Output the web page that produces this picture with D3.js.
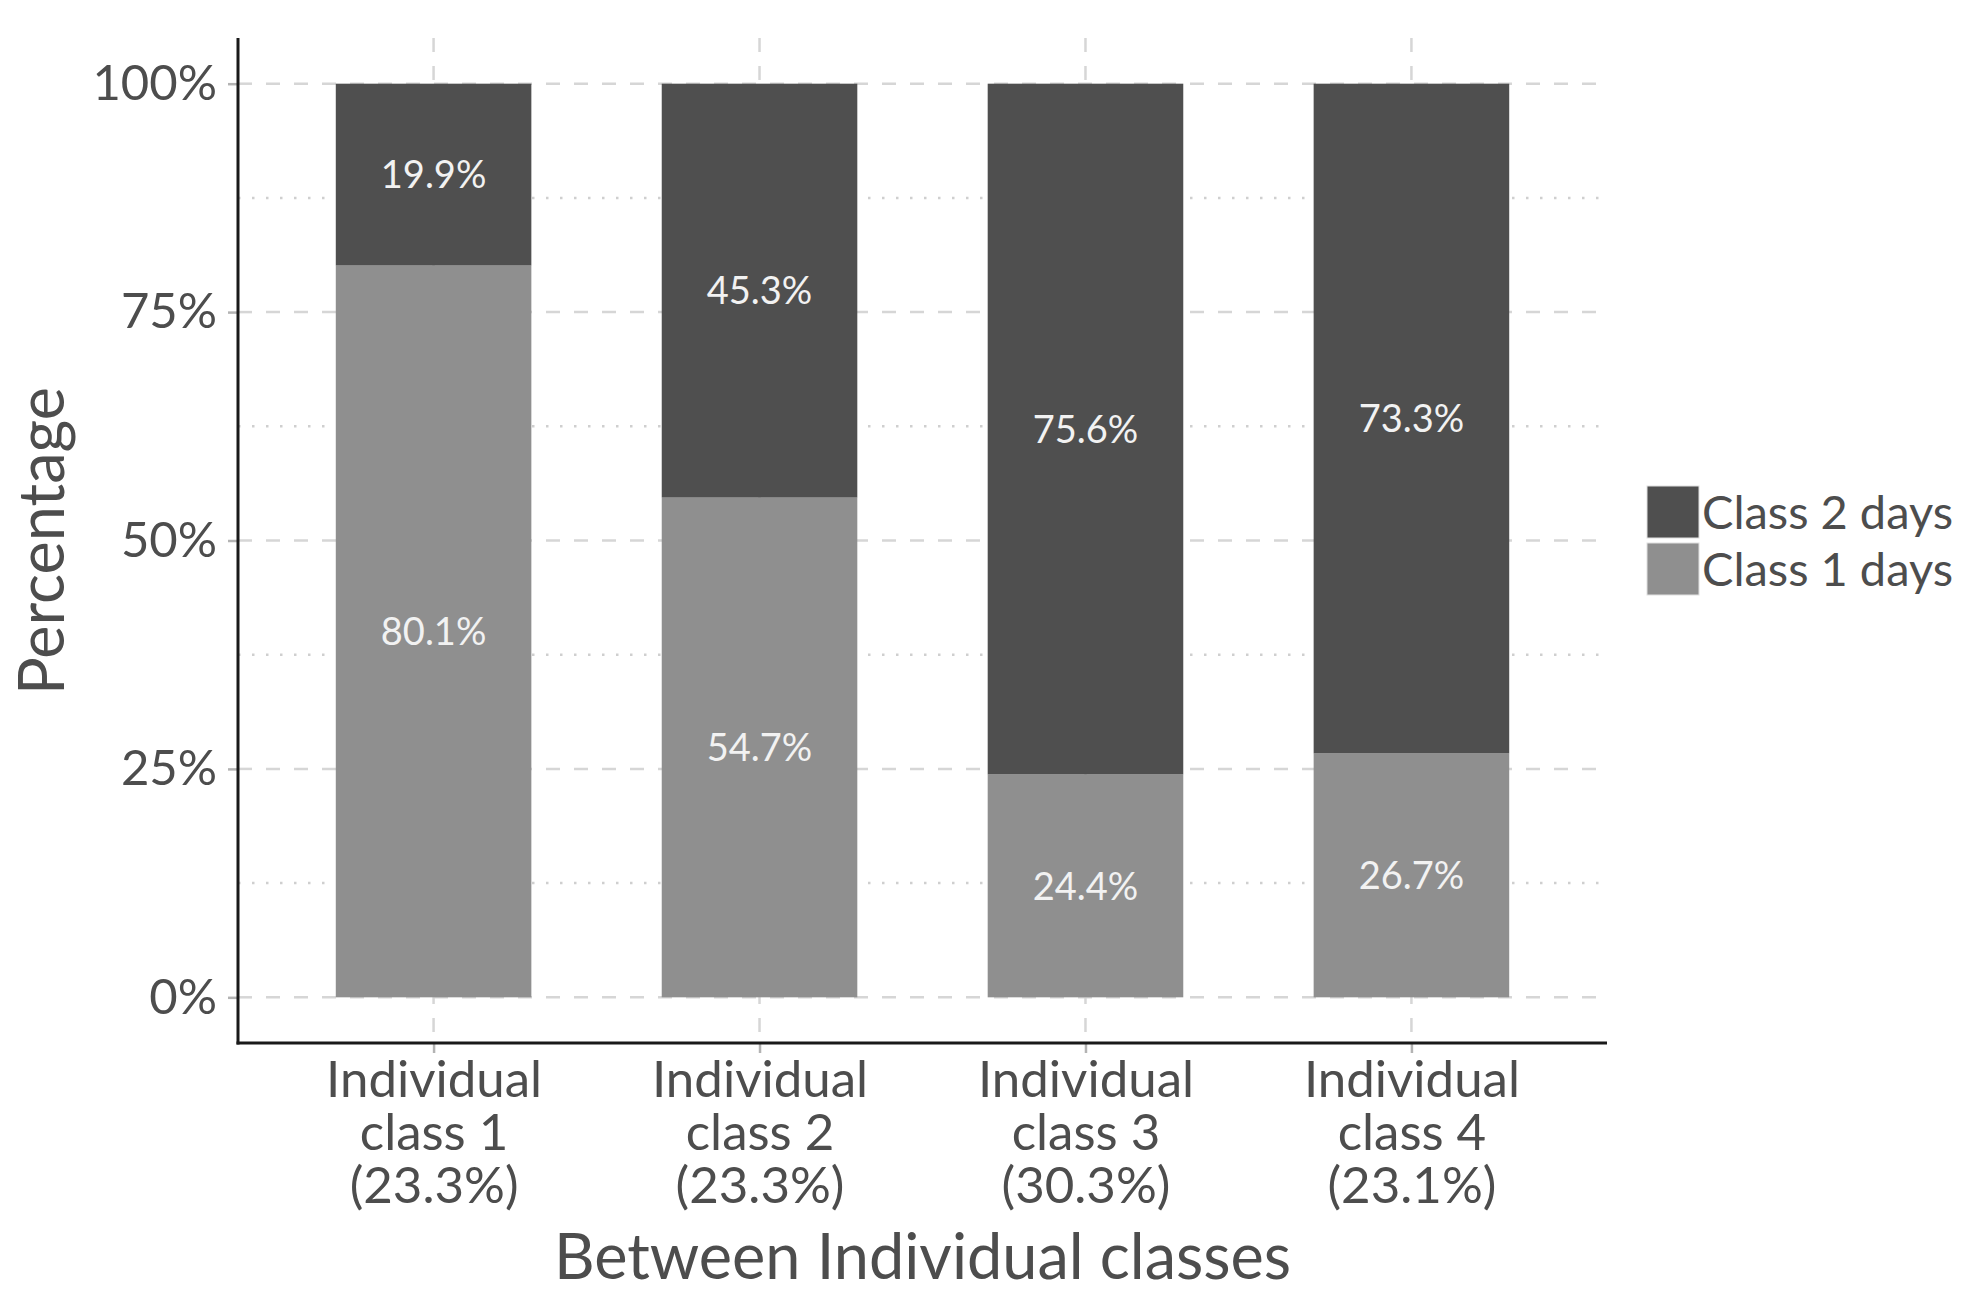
<!DOCTYPE html>
<html>
<head>
<meta charset="utf-8">
<script src="https://cdn.jsdelivr.net/npm/d3@7/dist/d3.min.js"></script>
<style>
  body { margin: 0; background: #fff; }
  svg { display: block; }
  text { font-family: Lato, "Open Sans", sans-serif; }
  .tick-label { fill: #4d4d4d; font-size: 49px; }
  .xtick-label { fill: #4d4d4d; font-size: 51px; }
  .bar-label { fill: #f2f2f2; font-size: 38px; }
  .axis-title { fill: #4d4d4d; font-size: 63px; }
  .legend-label { fill: #4d4d4d; font-size: 47px; }
</style>
</head>
<body>
<div id="chart"></div>
<script>
// categories and shares shown under each bar
var categories = ["Individual class 1", "Individual class 2", "Individual class 3", "Individual class 4"];
var shares = ["23.3%", "23.3%", "30.3%", "23.1%"];

// stacked series (percent of each bar)
var class1Days = [80.1, 54.7, 24.4, 26.7];
var class2Days = [19.9, 45.3, 75.6, 73.3];

var seriesNames = ["Class 1 days", "Class 2 days"];
var seriesColors = ["#8f8f8f", "#4f4f4f"];

var yTicks = [0, 25, 50, 75, 100];
var yMinor = [12.5, 37.5, 62.5, 87.5];

var width = 1976, height = 1304;
var panel = { left: 238, right: 1607, top: 38, bottom: 1043 };

var svg = d3.select("#chart").append("svg")
    .attr("width", width)
    .attr("height", height);

svg.append("rect").attr("width", width).attr("height", height).attr("fill", "#fff");

// ggplot-like expansion: 0.6 units each side for the discrete axis, 5% for y
var x = d3.scalePoint()
    .domain(categories)
    .range([panel.left, panel.right])
    .padding(0.6);
var step = x.step();
var barWidth = step * 0.6;

var y = d3.scaleLinear()
    .domain([-5, 105])
    .range([panel.bottom, panel.top]);

var grid = svg.append("g");

grid.selectAll(".minor")
    .data(yMinor)
    .enter().append("line")
    .attr("x1", panel.left).attr("x2", panel.right)
    .attr("y1", function (d) { return y(d); })
    .attr("y2", function (d) { return y(d); })
    .attr("stroke", "#cfcfcf")
    .attr("stroke-width", 2.5)
    .attr("stroke-dasharray", "2.5,11.5");

grid.selectAll(".major")
    .data(yTicks)
    .enter().append("line")
    .attr("x1", panel.left).attr("x2", panel.right)
    .attr("y1", function (d) { return y(d); })
    .attr("y2", function (d) { return y(d); })
    .attr("stroke", "#d6d6d6")
    .attr("stroke-width", 2.5)
    .attr("stroke-dasharray", "14,14");

grid.selectAll(".vgrid")
    .data(categories)
    .enter().append("line")
    .attr("x1", function (d) { return x(d); })
    .attr("x2", function (d) { return x(d); })
    .attr("y1", panel.top).attr("y2", panel.bottom)
    .attr("stroke", "#d6d6d6")
    .attr("stroke-width", 2.5)
    .attr("stroke-dasharray", "14,14");

// stack the two series
var rows = categories.map(function (c, i) {
    return { cat: c, "Class 1 days": class1Days[i], "Class 2 days": class2Days[i] };
});
var stacked = d3.stack().keys(seriesNames)(rows);

var layers = svg.selectAll(".layer")
    .data(stacked)
    .enter().append("g")
    .attr("fill", function (d, i) { return seriesColors[i]; });

layers.selectAll("rect")
    .data(function (d) { return d; })
    .enter().append("rect")
    .attr("x", function (d) { return x(d.data.cat) - barWidth / 2; })
    .attr("width", barWidth)
    .attr("y", function (d) { return y(d[1]); })
    .attr("height", function (d) { return y(d[0]) - y(d[1]); });

layers.selectAll(".bar-label")
    .data(function (d) { return d; })
    .enter().append("text")
    .attr("class", "bar-label")
    .attr("x", function (d) { return x(d.data.cat); })
    .attr("y", function (d) { return y((d[0] + d[1]) / 2); })
    .attr("text-anchor", "middle")
    .attr("dy", "0.36em")
    .text(function (d) { return (d[1] - d[0]).toFixed(1) + "%"; });

// axes
var yAxis = d3.axisLeft(y)
    .tickValues(yTicks)
    .tickSize(10)
    .tickPadding(11)
    .tickFormat(function (d) { return d + "%"; });

var yG = svg.append("g")
    .attr("transform", "translate(" + panel.left + ",0)")
    .call(yAxis)
    .attr("font-family", null).attr("font-size", null);
yG.select(".domain").remove();
yG.selectAll(".tick line").attr("stroke", "#b3b3b3").attr("stroke-width", 2.5);
yG.selectAll(".tick text").attr("class", "tick-label").attr("fill", null);

var xAxis = d3.axisBottom(x).tickSize(10).tickFormat("");
var xG = svg.append("g")
    .attr("transform", "translate(0," + panel.bottom + ")")
    .call(xAxis)
    .attr("font-family", null).attr("font-size", null);
xG.select(".domain").remove();
xG.selectAll(".tick line").attr("stroke", "#b3b3b3").attr("stroke-width", 2.5);

xG.selectAll(".tick").each(function (d, i) {
    var t = d3.select(this).append("text")
        .attr("class", "xtick-label")
        .attr("text-anchor", "middle");
    var lines = d.replace("Individual ", "Individual|").split("|");
    lines.push("(" + shares[i] + ")");
    lines.forEach(function (l, k) {
        t.append("tspan").attr("x", 0).attr("y", 54 + k * 53).text(l);
    });
});

// axis lines
svg.append("line")
    .attr("x1", panel.left).attr("x2", panel.left)
    .attr("y1", panel.top).attr("y2", panel.bottom + 1.5)
    .attr("stroke", "#1a1a1a").attr("stroke-width", 3);
svg.append("line")
    .attr("x1", panel.left - 1.5).attr("x2", panel.right)
    .attr("y1", panel.bottom).attr("y2", panel.bottom)
    .attr("stroke", "#1a1a1a").attr("stroke-width", 3);

// titles
svg.append("text")
    .attr("class", "axis-title")
    .attr("x", (panel.left + panel.right) / 2)
    .attr("y", 1279)
    .attr("text-anchor", "middle")
    .text("Between Individual classes");

svg.append("text")
    .attr("class", "axis-title")
    .attr("transform", "translate(64," + 541 + ") rotate(-90)")
    .attr("text-anchor", "middle")
    .text("Percentage");

// legend, top entry is Class 2 days
var legendOrder = [1, 0];
var legend = svg.append("g").attr("transform", "translate(1647,486)");
var keySize = 52, keyGap = 5;
legendOrder.forEach(function (si, k) {
    var g = legend.append("g").attr("transform", "translate(0," + k * (keySize + keyGap) + ")");
    g.append("rect")
        .attr("width", keySize).attr("height", keySize)
        .attr("fill", seriesColors[si])
        .attr("stroke", "#e0e0e0").attr("stroke-width", 1);
    g.append("text")
        .attr("class", "legend-label")
        .attr("x", keySize + 3)
        .attr("y", keySize / 2)
        .attr("dy", "0.36em")
        .text(seriesNames[si]);
});
</script>
</body>
</html>
